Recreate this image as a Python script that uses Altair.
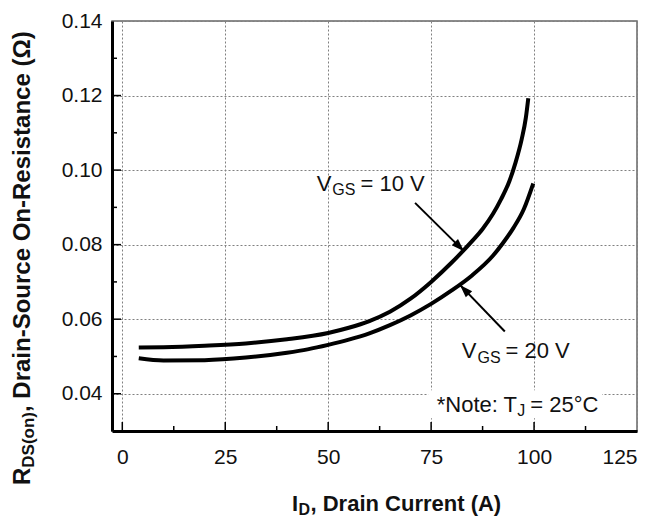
import altair as alt
import pandas as pd

# ---------------- data ----------------
id_10v = [4, 10, 20, 30, 40, 50, 55, 60, 65, 70, 75, 80, 85, 87.5, 90, 92, 94,
          95.5, 97, 98, 98.6]
r_10v = [0.0524, 0.0525, 0.0529, 0.0535, 0.0546, 0.0563, 0.0577, 0.0595, 0.0620,
         0.0655, 0.0700, 0.0752, 0.0810, 0.0842, 0.0882, 0.0922, 0.0970,
         0.1020, 0.1083, 0.1140, 0.1193]

id_20v = [4, 10, 20, 30, 40, 45, 50, 55, 60, 65, 70, 75, 80, 85, 90, 92.5, 95,
          97.5, 99.8]
r_20v = [0.0495, 0.0489, 0.0490, 0.0497, 0.0510, 0.0519, 0.0531, 0.0545, 0.0562,
         0.0584, 0.0610, 0.0641, 0.0677, 0.0718, 0.0770, 0.0805, 0.0845,
         0.0895, 0.0964]

x_ticks = [0, 25, 50, 75, 100, 125]
y_ticks = [0.04, 0.06, 0.08, 0.10, 0.12, 0.14]
x_major_inner = [0, 25, 50, 75, 100]
x_minor = [12.5, 37.5, 62.5, 87.5, 112.5]
y_major_inner = [0.04, 0.06, 0.08, 0.10, 0.12]
y_minor = [0.05, 0.07, 0.09, 0.11, 0.13]

# annotation arrows (tail, tip) in data units
arrow10_x = [71.1, 83.0]
arrow10_y = [0.0912, 0.0782]
arrow20_x = [92.9, 82.0]
arrow20_y = [0.0567, 0.0692]

# annotation text anchors in data units
lab10_x = [47.2, 51.0, 57.85]
lab10_y = [0.0943, 0.0934, 0.0943]
lab20_x = [82.43, 86.27, 93.07]
lab20_y = [0.0495, 0.0482, 0.0495]
note_x = [76.36, 95.9, 99.1]
note_y = [0.0352, 0.0340, 0.0352]
note_box_x = [74.3, 116.5]
note_box_y = [0.0334, 0.0409]

FONT = "Liberation Sans"
W, H = 525, 410

xs = alt.Scale(domain=[-2.5, 125], nice=False, zero=False)
ys = alt.Scale(domain=[0.03, 0.14], nice=False, zero=False)

curves = pd.DataFrame({
    "id": id_10v + id_20v,
    "r": r_10v + r_20v,
    "series": ["VGS = 10 V"] * len(id_10v) + ["VGS = 20 V"] * len(id_20v),
})

x_axis = alt.Axis(values=x_ticks, format="d", grid=True, gridColor="#808080",
                  gridDash=[2, 2], gridWidth=1, ticks=False, tickSize=0,
                  domainColor="black", domainWidth=3, labelFont=FONT,
                  labelFontSize=21, labelColor="#111", labelPadding=15,
                  labelFlush=True, title=None)
y_axis = alt.Axis(values=y_ticks, format=".2f", grid=True, gridColor="#808080",
                  gridDash=[2, 2], gridWidth=1, ticks=False, tickSize=0,
                  domainColor="black", domainWidth=3, labelFont=FONT,
                  labelFontSize=21, labelColor="#111", labelPadding=10,
                  title=None)

lines = alt.Chart(curves).mark_line(color="black", strokeWidth=4,
                                    interpolate="monotone").encode(
    x=alt.X("id:Q", scale=xs, axis=x_axis),
    y=alt.Y("r:Q", scale=ys, axis=y_axis),
    detail="series:N",
)

note_box = alt.Chart(pd.DataFrame({"x": [note_box_x[0]], "x2": [note_box_x[1]],
                                   "y": [note_box_y[0]], "y2": [note_box_y[1]]})
                     ).mark_rect(color="white").encode(
    x=alt.X("x:Q", scale=xs, title=None), x2="x2:Q",
    y=alt.Y("y:Q", scale=ys, title=None), y2="y2:Q")


def yticks(vals, length):
    return alt.Chart(pd.DataFrame({"v": vals})).mark_rule(
        color="black", strokeWidth=1.5).encode(
        y=alt.Y("v:Q", scale=ys, title=None), x=alt.value(0), x2=alt.value(length))


def xticks(vals, length):
    return alt.Chart(pd.DataFrame({"v": vals})).mark_rule(
        color="black", strokeWidth=1.5).encode(
        x=alt.X("v:Q", scale=xs, title=None), y=alt.value(H), y2=alt.value(H - length))


ARROW = "M0,0 L0.34,1 L-0.34,1 Z"


def arrow(xv, yv, angle):
    d = pd.DataFrame({"x": xv, "y": yv})
    shaft = alt.Chart(d).mark_line(color="black", strokeWidth=2).encode(
        x=alt.X("x:Q", scale=xs, title=None), y=alt.Y("y:Q", scale=ys, title=None))
    head = alt.Chart(d.iloc[[1]]).mark_point(shape=ARROW, size=676, filled=True,
                                             color="black", opacity=1,
                                             strokeWidth=0, angle=angle).encode(
        x=alt.X("x:Q", scale=xs, title=None), y=alt.Y("y:Q", scale=ys, title=None))
    return [shaft, head]


def dtext(txt, xv, yv, size):
    return alt.Chart(pd.DataFrame({"x": [xv], "y": [yv], "t": [txt]})).mark_text(
        font=FONT, fontSize=size, color="#111", align="left",
        baseline="alphabetic").encode(
        x=alt.X("x:Q", scale=xs, title=None), y=alt.Y("y:Q", scale=ys, title=None),
        text="t:N")


def ptext(txt, px, py, size, angle=0):
    return alt.Chart(pd.DataFrame({"t": [txt]})).mark_text(
        font=FONT, fontSize=size, fontWeight="bold", color="#111", align="left",
        baseline="alphabetic", angle=angle).encode(
        x=alt.value(px), y=alt.value(py), text="t:N")


layers = [note_box, lines,
          yticks(y_major_inner, 9), yticks(y_minor, 5),
          xticks(x_major_inner, 9), xticks(x_minor, 5)]
layers += arrow(arrow10_x, arrow10_y, 135)
layers += arrow(arrow20_x, arrow20_y, 316)
layers += [
    dtext("V", lab10_x[0], lab10_y[0], 22),
    dtext("GS", lab10_x[1], lab10_y[1], 16),
    dtext("= 10 V", lab10_x[2], lab10_y[2], 22),
    dtext("V", lab20_x[0], lab20_y[0], 22),
    dtext("GS", lab20_x[1], lab20_y[1], 16),
    dtext("= 20 V", lab20_x[2], lab20_y[2], 22),
    dtext("*Note: T", note_x[0], note_y[0], 22),
    dtext("J", note_x[1], note_y[1], 16),
    dtext("= 25°C", note_x[2], note_y[2], 22),
    # y axis title
    ptext("R", -82, 464, 24, 270),
    ptext("DS(on)", -78, 446.7, 17, 270),
    ptext(", Drain-Source On-Resistance (Ω)", -82, 391, 24, 270),
    # x axis title
    ptext("I", 180, 490, 22),
    ptext("D", 186.5, 494, 16),
    ptext(", Drain Current (A)", 198.5, 490, 22),
]

chart = alt.layer(*layers).properties(
    width=W, height=H,
    padding={"left": 104, "top": 13, "right": 4, "bottom": 86},
    autosize=alt.AutoSizeParams(type="none"),
    background="white",
).configure_view(stroke="#666666", strokeWidth=1.5)

chart.save("out.html", embed_options={"renderer": "svg", "actions": False})
